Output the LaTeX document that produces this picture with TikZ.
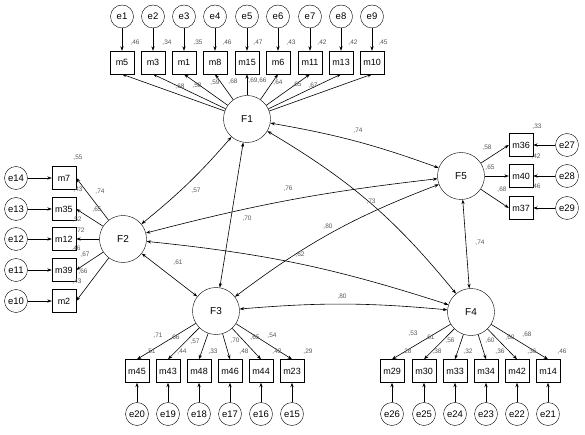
\documentclass[tikz,border=0pt]{standalone}
\usepackage{fontspec}
\setmainfont{Liberation Sans}
\usetikzlibrary{arrows.meta}
\tikzset{
 lat/.style={circle,draw,minimum size=47pt,inner sep=0pt,font=\fontsize{10}{12}\selectfont},
 err/.style={circle,draw,minimum size=23pt,inner sep=0pt,font=\fontsize{9.5}{11}\selectfont},
 obs/.style={rectangle,draw,minimum width=24pt,minimum height=23pt,inner sep=0pt,font=\fontsize{9}{11}\selectfont},
 lbl/.style={inner sep=0pt,font=\fontsize{6.5}{7}\selectfont,text=black!65},
 arr/.style={-{Stealth[length=4.5pt,width=3.2pt]}, line width=0.6pt},
 cov/.style={{Stealth[length=4.5pt,width=3.2pt]}-{Stealth[length=4.5pt,width=3.2pt]}, line width=0.6pt},
}
\begin{document}
\begin{tikzpicture}[x=1pt,y=-1pt]
\useasboundingbox[fill=white] (0,0) rectangle (585,435);
% latent factors
\node[lat] (F1) at (247,119) {F1};
\node[lat] (F2) at (123,239) {F2};
\node[lat] (F3) at (216,311) {F3};
\node[lat] (F4) at (471,312) {F4};
\node[lat] (F5) at (461,176) {F5};
% F1 indicators (top)
\foreach \m/\e/\x in {m5/e1/122, m3/e2/153, m1/e3/184, m8/e4/215, m15/e5/247, m6/e6/278, m11/e7/310, m13/e8/341, m10/e9/372}{
 \node[obs] (\m) at (\x,62.5) {\m};
 \node[err] (\e) at (\x,16.5) {\e};
 \draw[arr] (\e) -- (\m.north);
 \draw[arr] (F1) -- (\m.south);
}
% F2 indicators (left)
\foreach \m/\e/\y in {m7/e14/178, m35/e13/209, m12/e12/239, m39/e11/270, m2/e10/301}{
 \node[obs] (\m) at (64,\y) {\m};
 \node[err] (\e) at (16,\y) {\e};
 \draw[arr] (\e) -- (\m.west);
 \draw[arr] (F2) -- (\m.east);
}
% F5 indicators (right)
\foreach \m/\e/\y in {m36/e27/145, m40/e28/176, m37/e29/208}{
 \node[obs] (\m) at (521,\y) {\m};
 \node[err] (\e) at (567,\y) {\e};
 \draw[arr] (\e) -- (\m.east);
 \draw[arr] (F5) -- (\m.west);
}
% F3 indicators (bottom)
\foreach \m/\e/\x in {m45/e20/137, m43/e19/168, m48/e18/199, m46/e17/230, m44/e16/261, m23/e15/292}{
 \node[obs] (\m) at (\x,371) {\m};
 \node[err] (\e) at (\x,414) {\e};
 \draw[arr] (\e) -- (\m.south);
 \draw[arr] (F3) -- (\m.north);
}
% F4 indicators (bottom)
\foreach \m/\e/\x in {m29/e26/392, m30/e25/424, m33/e24/455, m34/e23/486, m42/e22/517, m14/e21/548}{
 \node[obs] (\m) at (\x,371) {\m};
 \node[err] (\e) at (\x,414) {\e};
 \draw[arr] (\e) -- (\m.south);
 \draw[arr] (F4) -- (\m.north);
}
% covariances
\draw[cov] (F1) to[bend left=5] (F5);
\draw[cov] (F1) to[bend left=5] (F2);
\draw[cov] (F1) to (F3);
\draw[cov] (F1) to[bend left=10] (F4);
\draw[cov] (F2) to[bend left=4] (F5);
\draw[cov] (F2) to[bend left=6] (F4);
\draw[cov] (F2) to (F3);
\draw[cov] (F3) to[bend left=8] (F5);
\draw[cov] (F3) to[bend left=5] (F4);
\draw[cov] (F5) to (F4);
% labels: top
\foreach \t/\x/\y [count=\i] in {46/135/43, 34/167/43, 35/198/43, 46/227/43, 47/258/43, 43/291/43, 42/322/43, 42/353/43, 45/383/43,
 68/180/87, 58/197/86, 59/215/83, 68/233/82, 69/253/81, 66/262/81, 64/278/83, 65/297/85, 67/313/86}
 \node[lbl] (T\i) at (\x,\y) {,\t};
% labels: left
\foreach \t/\x/\y [count=\i] in {55/78/158, 43/78/190, 74/100/192, 65/97/210, 52/77/220, 72/80/231, 46/76/248.5, 67/85/255, 66/83/272, 43/77/282}
 \node[lbl] (L\i) at (\x,\y) {,\t};
% labels: right
\foreach \t/\x/\y [count=\i] in {33/537/127, 58/487/148, 42/536/157, 65/490/168, 46/536/187, 68/502/190}
 \node[lbl] (R\i) at (\x,\y) {,\t};
% labels: F3 group
\foreach \t/\x/\y [count=\i] in {71/158/336, 66/175/338, 51/151/352, 57/195/342, 44/182/352, 33/213/352, 70/235/341, 48/244/352, 65/255/338, 54/272/336, 42/277/352, 29/308/352}
 \node[lbl] (B\i) at (\x,\y) {,\t};
% labels: F4 group
\foreach \t/\x/\y [count=\i] in {53/413/334, 61/430/338, 28/407/352, 56/450/341, 38/437/352, 32/468/352, 60/490/341, 36/500/352, 60/510/338, 68/527/335, 36/532/352, 46/562/352}
 \node[lbl] (D\i) at (\x,\y) {,\t};
% labels: covariances
\foreach \t/\x/\y [count=\i] in {74/358/131, 57/196/191, 70/247/219, 73/371/202, 76/288/189, 80/328/227, 62/300/255, 61/178/263, 80/342/297, 74/480/243}
 \node[lbl] (C\i) at (\x,\y) {,\t};
\end{tikzpicture}
\end{document}
